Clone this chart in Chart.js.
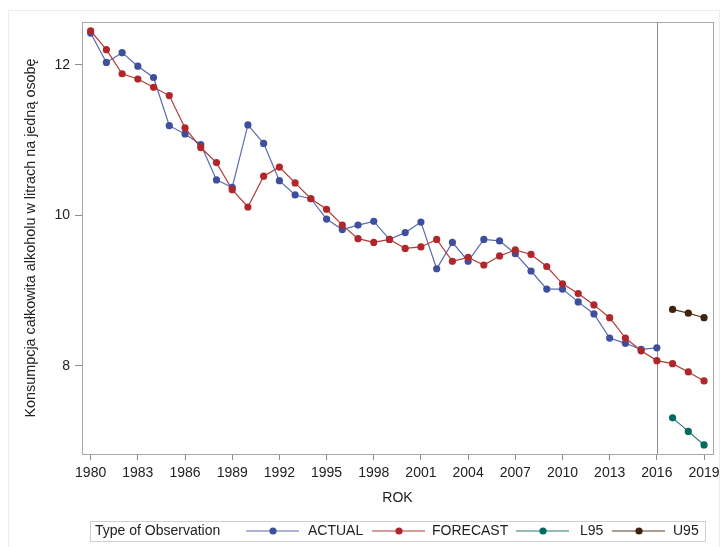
<!DOCTYPE html>
<html>
<head>
<meta charset="utf-8">
<script src="https://cdn.jsdelivr.net/npm/chart.js@4/dist/chart.umd.min.js"></script>
<style>
  body { margin: 0; background: #fff; }
  canvas { display: block; }
</style>
</head>
<body>
<canvas id="myChart" width="720" height="547"></canvas>
<script>
// data
const actualYears = [1980,1981,1982,1983,1984,1985,1986,1987,1988,1989,1990,1991,1992,1993,1994,1995,1996,1997,1998,1999,2000,2001,2002,2003,2004,2005,2006,2007,2008,2009,2010,2011,2012,2013,2014,2015,2016]
const actual = [12.42,12.03,12.16,11.98,11.83,11.19,11.08,10.94,10.47,10.37,11.20,10.955,10.46,10.27,10.22,9.95,9.81,9.87,9.92,9.68,9.77,9.91,9.29,9.64,9.39,9.68,9.66,9.49,9.26,9.02,9.02,8.85,8.69,8.37,8.30,8.22,8.24]
const forecastYears = [1980,1981,1982,1983,1984,1985,1986,1987,1988,1989,1990,1991,1992,1993,1994,1995,1996,1997,1998,1999,2000,2001,2002,2003,2004,2005,2006,2007,2008,2009,2010,2011,2012,2013,2014,2015,2016,2017,2018,2019]
const forecast = [12.45,12.20,11.88,11.81,11.70,11.59,11.16,10.90,10.70,10.34,10.11,10.52,10.64,10.43,10.22,10.08,9.87,9.69,9.64,9.68,9.56,9.58,9.68,9.39,9.44,9.34,9.46,9.54,9.48,9.32,9.09,8.96,8.81,8.64,8.37,8.20,8.07,8.03,7.92,7.80]
const boundYears = [2017,2018,2019]
const l95 = [7.31,7.13,6.95]
const u95 = [8.75,8.70,8.64]
const xTicks = [1980,1983,1986,1989,1992,1995,1998,2001,2004,2007,2010,2013,2016,2019]
const yTicks = [8,10,12]
const refYear = 2016

const FONT = 'Liberation Sans, Arial, sans-serif'

function pts(xs, ys){
    return xs.map((x, i) => ({x: x, y: ys[i]}))
}

function series(label, xs, ys, lineColor, dotColor, order){
    return {
        label: label,
        data: pts(xs, ys),
        borderColor: lineColor,
        backgroundColor: dotColor,
        pointBackgroundColor: dotColor,
        pointBorderColor: dotColor,
        pointRadius: 3.6,
        pointBorderWidth: 0,
        borderWidth: 1.2,
        order: order
    }
}

function noOverhang(scale){
    // keep chart area edges fixed, tick labels may hang over
    scale.paddingLeft = 0
    scale.paddingRight = 0
    scale.paddingTop = 0
    scale.paddingBottom = 0
}

/**draws the frame, the plot border, the 2016 reference line and the legend */
const decorations = {
    id: 'decorations',
    beforeDraw(chart){
        const c = chart.ctx
        c.save()
        c.strokeStyle = '#ececec'
        c.lineWidth = 1
        c.strokeRect(8.5, 10.5, 711, 560)
        c.restore()
    },
    beforeDatasetsDraw(chart){
        const c = chart.ctx
        const a = chart.chartArea
        const x = Math.round(chart.scales.x.getPixelForValue(refYear)) + 0.5
        c.save()
        c.strokeStyle = '#8c8c8c'
        c.lineWidth = 1
        c.beginPath()
        c.moveTo(x, a.top)
        c.lineTo(x, a.bottom)
        c.stroke()
        c.strokeStyle = '#a8a8a8'
        c.strokeRect(Math.round(a.left) + 0.5, Math.round(a.top) + 0.5, Math.round(a.right - a.left), Math.round(a.bottom - a.top))
        c.restore()
    },
    afterDraw(chart){
        const c = chart.ctx
        c.save()
        c.font = '14px ' + FONT
        c.textBaseline = 'middle'
        c.fillStyle = '#222'
        const top = 521, h = 20, cy = top + h / 2
        c.fillText('Type of Observation', 95, cy)
        // line start and label start of each legend entry
        const lineX = [246, 372, 516, 612]
        const textX = [308, 432, 580, 673]
        const ds = chart.data.datasets
        ds.forEach((d, i) => {
            const x = lineX[i]
            c.strokeStyle = d.borderColor
            c.lineWidth = 1.2
            c.beginPath()
            c.moveTo(x, cy)
            c.lineTo(x + 53, cy)
            c.stroke()
            c.fillStyle = d.pointBackgroundColor
            c.beginPath()
            c.arc(x + 27, cy, 3.6, 0, Math.PI * 2)
            c.fill()
            c.fillStyle = '#222'
            c.fillText(d.label, textX[i], cy)
        })
        c.strokeStyle = '#cfcfcf'
        c.lineWidth = 1
        c.strokeRect(90.5, top + 0.5, 615, h)
        c.restore()
    }
}

const ctx = document.getElementById('myChart')
const myChart = new Chart(ctx, {
    type: 'line',
    data: {
        datasets: [
            series('ACTUAL', actualYears, actual, '#5a6aac', '#3e4f9e', 2),
            series('FORECAST', forecastYears, forecast, '#b03a36', '#b0262a', 1),
            series('L95', boundYears, l95, '#2a7a70', '#006b5e', 0),
            series('U95', boundYears, u95, '#5a3a1c', '#3f230c', 0)
        ]
    },
    options: {
        responsive: false,
        animation: false,
        layout: {padding: {left: 8, top: 22, right: 7, bottom: 33}},
        plugins: {
            legend: {display: false},
            tooltip: {enabled: false}
        },
        scales: {
            x: {
                type: 'linear',
                min: 1979.45,
                max: 2019.57,
                afterBuildTicks: scale => { scale.ticks = xTicks.map(v => ({value: v})) },
                afterFit: scale => { scale.height = 60; noOverhang(scale) },
                border: {display: false},
                grid: {drawOnChartArea: false, tickLength: 6, color: '#8c8c8c'},
                ticks: {
                    padding: 5,
                    color: '#222',
                    font: {family: FONT, size: 14},
                    maxRotation: 0,
                    autoSkip: false,
                    callback: v => String(v)
                },
                title: {
                    display: true,
                    text: 'ROK',
                    color: '#222',
                    font: {family: FONT, size: 14},
                    padding: {top: 0, bottom: 7}
                }
            },
            y: {
                type: 'linear',
                min: 6.83,
                max: 12.567,
                afterBuildTicks: scale => { scale.ticks = yTicks.map(v => ({value: v})) },
                afterFit: scale => { scale.width = 74; noOverhang(scale) },
                border: {display: false},
                grid: {drawOnChartArea: false, tickLength: 7, color: '#8c8c8c'},
                ticks: {
                    padding: 5,
                    color: '#222',
                    font: {family: FONT, size: 14},
                    callback: v => String(v)
                },
                title: {
                    display: true,
                    text: 'Konsumpcja całkowita alkoholu w litrach na jedną osobę',
                    color: '#222',
                    font: {family: FONT, size: 14.4},
                    padding: {top: 14, bottom: 0}
                }
            }
        }
    },
    plugins: [decorations]
})
</script>
</body>
</html>
